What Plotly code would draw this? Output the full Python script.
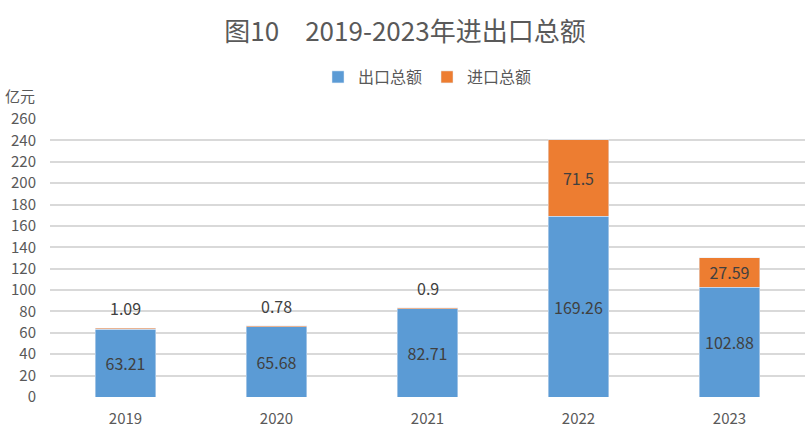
import plotly.graph_objects as go

years = [2019, 2020, 2021, 2022, 2023]
exports = [63.21, 65.68, 82.71, 169.26, 102.88]
imports = [1.09, 0.78, 0.9, 71.5, 27.59]
y_ticks = list(range(0, 261, 20))

font_family = "'Noto Sans CJK SC', 'Noto Sans', sans-serif"
grey = "#595959"
label_color = "#404040"

fig = go.Figure()
fig.add_trace(go.Bar(
    x=years, y=exports, name="出口总额", marker_color="#5B9BD5",
    text=[str(v) for v in exports], textposition="inside", insidetextanchor="middle",
    constraintext="none", textfont=dict(size=16, color=label_color),
))
# small import values are labelled above the bar, big ones inside
inside = [v > 10 for v in imports]
fig.add_trace(go.Bar(
    x=years, y=imports, name="进口总额", marker_color="#ED7D31",
    text=[str(v) if ok else "" for v, ok in zip(imports, inside)],
    textposition="inside", insidetextanchor="middle",
    constraintext="none", textfont=dict(size=16, color=label_color),
))

annotations = []
for yr, e, i, ok in zip(years, exports, imports, inside):
    if not ok:
        annotations.append(dict(x=yr, y=e + i, text=str(i), showarrow=False,
                                yanchor="bottom", yshift=6,
                                font=dict(size=16, color=label_color)))
annotations.append(dict(x=0, y=1, xref="paper", yref="paper", xshift=-47, yshift=11,
                        xanchor="left", yanchor="bottom", text="亿元", showarrow=False,
                        font=dict(size=15, color=grey)))

fig.update_layout(
    width=810, height=438,
    margin=dict(l=50, r=5, t=119, b=41),
    barmode="stack", bargap=0.6,
    plot_bgcolor="white", paper_bgcolor="white",
    font=dict(family=font_family, color=grey),
    title=dict(text="图10　2019-2023年进出口总额", x=0.5, xanchor="center",
               y=0.927, yanchor="middle", font=dict(size=26, color=grey)),
    legend=dict(orientation="h", x=0.5, xanchor="center", y=1.151, yanchor="middle",
                font=dict(size=16, color=grey), traceorder="normal"),
    annotations=annotations,
    xaxis=dict(tickmode="array", tickvals=years, ticktext=[str(y) for y in years],
               range=[2018.5, 2023.5], showline=False, ticks="outside", ticklen=8,
               tickcolor="white", automargin=False, tickfont=dict(size=15, color=grey)),
    yaxis=dict(range=[0, 260], tickvals=y_ticks, showgrid=True, gridcolor="#D9D9D9",
               gridwidth=2, zeroline=False, ticks="outside", ticklen=10, tickcolor="white",
               automargin=False, tickfont=dict(size=15, color=grey)),
)

# the page body has a default 8px margin; drop it so the chart sits at the window corner
fig.write_html("out.html", config={"displayModeBar": False},
               post_script="document.body.style.margin='0';")
